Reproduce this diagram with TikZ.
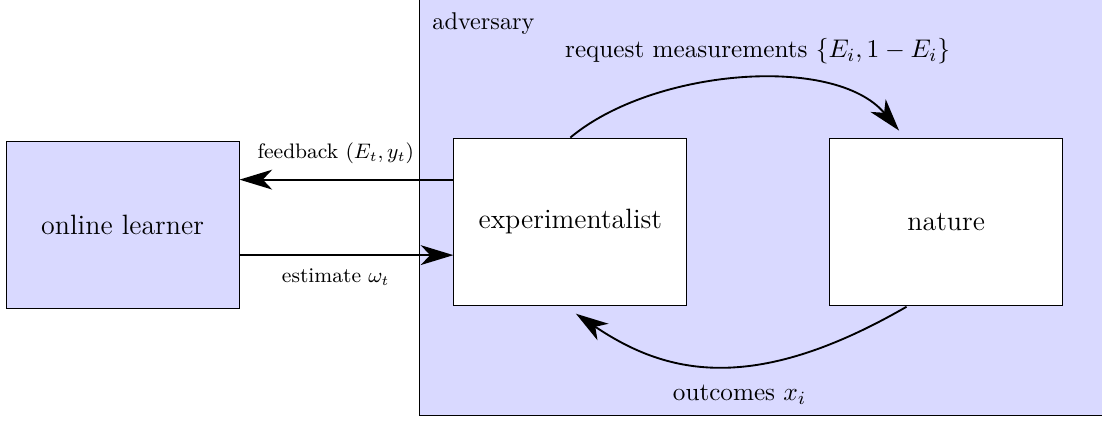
\documentclass[tikz,border=0pt]{standalone}
\usepackage{amsmath,amssymb}
\usepackage{xcolor}
\usetikzlibrary{arrows.meta,positioning,fit,calc,backgrounds}

\begin{document}
\begin{tikzpicture}[
  node distance=6mm,
  box/.style   = {draw, rectangle, minimum width=100pt, minimum height=71.7pt,
                  align=center, font=\large},
  player/.style= {box, fill=white},
  learn/.style = {box, fill=blue!15},
  grp/.style   = {draw, fill=blue!15, inner sep=0pt},
  ar/.style    = {-{Stealth[length=14pt, width=8.5pt, inset=4pt]}, thick},
  lbl/.style   = {font=\small},
  msg/.style   = {font=\fontsize{10.8pt}{13pt}\selectfont},
]

\useasboundingbox (0,0) rectangle (473pt,-180.3pt);

%% --- the three players ---
\node[learn] (learner) at (52.6pt,-96.4pt) {online learner};
\node[player, right=91.8pt of learner, yshift=1.3pt] (exp) {experimentalist};
\node[player, right=60.9pt of exp] (nature) {nature};

%% --- adversary frame, behind the players ---
\coordinate (advnw) at ($(exp.north west)+(-14.6pt,59.2pt)$);
\coordinate (advse) at ($(nature.south east)+(17.2pt,-47.2pt)$);
\begin{scope}[on background layer]
  \node[grp, fit=(advnw)(advse)] (adv) {};
\end{scope}
\node[anchor=north west, xshift=2.3pt, yshift=-2.2pt, font=\fontsize{10.4pt}{12pt}\selectfont]
  (advlbl) at (adv.north west) {adversary};

%% --- learner <-> experimentalist ---
\draw[ar] ([yshift=18pt]exp.west) -- ([yshift=18pt]exp.west -| learner.east)
  node[lbl, pos=0.55, above=3pt] (fbk) {feedback $(E_t, y_t)$};
\draw[ar] ([yshift=-14.4pt]exp.west -| learner.east) -- ([yshift=-14.4pt]exp.west)
  node[lbl, pos=0.45, below=2.3pt] (est) {estimate $\omega_t$};

%% --- experimentalist <-> nature ---
\draw[ar] (exp.north) .. controls +(40:46pt) and +(130:43pt) ..
  ($(nature.north west)+(30pt,3pt)$)
  node[msg, midway, above=3pt, xshift=7pt] (req) {request measurements $\{E_i, 1-E_i\}$};
\draw[ar] ($(nature.south)+(-17pt,-0.5pt)$) .. controls +(210:77pt) and +(326:45.8pt) ..
  ($(exp.south)+(2.4pt,-3.5pt)$)
  node[msg, midway, below=4.5pt, xshift=10pt] (out) {outcomes $x_i$};
\end{tikzpicture}
\end{document}
